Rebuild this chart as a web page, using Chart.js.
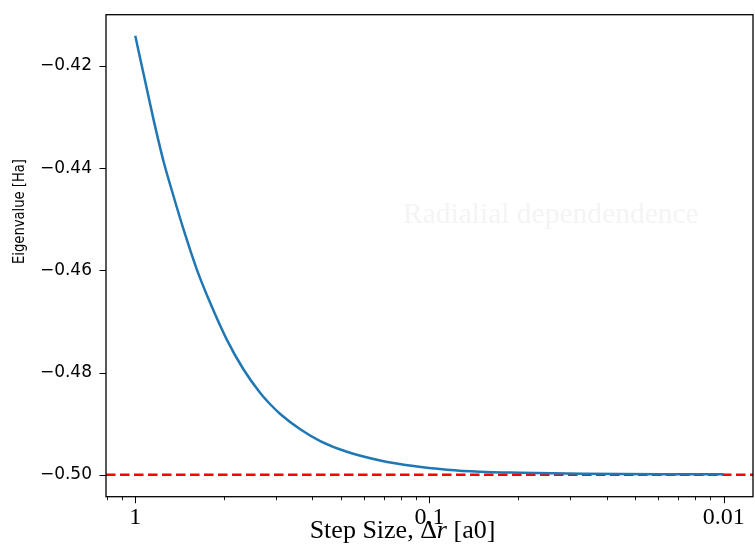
<!DOCTYPE html>
<html><head><meta charset="utf-8">
<script src="https://cdn.jsdelivr.net/npm/chart.js@4/dist/chart.umd.min.js"></script>
<style>html,body{margin:0;padding:0;background:#fff;}</style>
</head><body>
<canvas id="c" width="755" height="556" style="display:block;width:755px;height:556px"></canvas>
<script>
// Step size Δr [a0] and the computed ground-state eigenvalue [Ha]
const stepSize = [1.000, 0.9247, 0.8667, 0.8013, 0.7411, 0.6854, 0.6171, 0.5561, 0.4881, 0.4285, 0.3760, 0.3478, 0.3216, 0.2750, 0.2351, 0.1909, 0.1471, 0.1133, 0.0873, 0.0673, 0.0492, 0.0302, 0.0164, 0.0100];
const eigenvalue = [-0.4141, -0.4231, -0.4305, -0.4387, -0.4455, -0.4520, -0.4599, -0.4664, -0.4736, -0.4794, -0.4840, -0.4862, -0.4881, -0.4911, -0.4934, -0.4955, -0.4972, -0.4983, -0.4990, -0.4994, -0.4996, -0.4998, -0.4999, -0.4999];
const exactValue = -0.5;

// axis is log of 1/Δr, labelled with Δr
const xRange = [0.7952, 125.8];
const yRange = [-0.50429, -0.40997];
const xMajorTicks = [1, 10, 100];
const xTickLabels = ['1', '0.1', '0.01'];
const xMinorTicks = [0.8, 0.9, 2, 3, 4, 5, 6, 7, 8, 9, 20, 30, 40, 50, 60, 70, 80, 90];
const yTicks = [-0.50, -0.48, -0.46, -0.44, -0.42];
const yTickLabels = ['\u22120.50', '\u22120.48', '\u22120.46', '\u22120.44', '\u22120.42'];

const xTitleParts = [['Step Size, \u0394', ''], ['r', 'italic '], [' [a0]', '']];
const yTitle = 'Eigenvalue [Ha]';
const watermark = 'Radialial dependendence';

const decor = {
  id: 'decor',
  beforeDatasetsDraw(chart) {
    const ctx = chart.ctx;
    ctx.save();
    ctx.fillStyle = '#f4f4f4';
    ctx.font = '29.5px "Liberation Serif"';
    ctx.textBaseline = 'alphabetic';
    ctx.textAlign = 'left';
    ctx.fillText(watermark, 403, 223);
    ctx.restore();
  },
  afterDraw(chart) {
    const ctx = chart.ctx, a = chart.chartArea, xs = chart.scales.x, ys = chart.scales.y;
    ctx.save();
    ctx.strokeStyle = '#000';
    ctx.lineWidth = 1;
    ctx.beginPath();
    yTicks.forEach(v => {
      const p = Math.round(ys.getPixelForValue(v)) + 0.5;
      ctx.moveTo(a.left - 6.5, p); ctx.lineTo(a.left, p);
    });
    xMajorTicks.forEach(v => {
      const p = Math.round(xs.getPixelForValue(v)) + 0.5;
      ctx.moveTo(p, a.bottom); ctx.lineTo(p, a.bottom + 6.5);
    });
    ctx.stroke();
    ctx.lineWidth = 0.9;
    ctx.beginPath();
    xMinorTicks.forEach(v => {
      const p = Math.round(xs.getPixelForValue(v)) + 0.5;
      if (p < a.left - 0.5 || p > a.right + 0.5) return;
      ctx.moveTo(p, a.bottom); ctx.lineTo(p, a.bottom + 3.5);
    });
    ctx.stroke();
    ctx.lineWidth = 1.3;
    ctx.strokeRect(a.left, a.top, a.right - a.left, a.bottom - a.top);

    // x title with italic r
    ctx.fillStyle = '#000';
    ctx.textBaseline = 'alphabetic';
    ctx.textAlign = 'left';
    const xf = '26px "Liberation Serif"';
    let total = 0;
    xTitleParts.forEach(([t, st]) => { ctx.font = st + xf; total += ctx.measureText(t).width; });
    let x0 = 402.5 - total / 2;
    xTitleParts.forEach(([t, st]) => { ctx.font = st + xf; ctx.fillText(t, x0, 538); x0 += ctx.measureText(t).width; });

    // y title
    ctx.translate(20, 211.5);
    ctx.rotate(-Math.PI / 2);
    ctx.font = '16px "DejaVu Sans"';
    const w = ctx.measureText(yTitle).width;
    ctx.scale(105 / w, 1);
    ctx.textAlign = 'center';
    ctx.textBaseline = 'middle';
    ctx.fillText(yTitle, 0, 0);
    ctx.restore();
  }
};

const near = (a, b) => Math.abs(a - b) < 1e-9 * Math.max(1, Math.abs(b));

new Chart(document.getElementById('c'), {
  type: 'line',
  data: {
    datasets: [
      {
        data: stepSize.map((d, i) => ({ x: 1 / d, y: eigenvalue[i] })),
        borderColor: '#1f77b4', borderWidth: 2.5, pointRadius: 0,
        cubicInterpolationMode: 'monotone', fill: false
      },
      {
        data: [{ x: xRange[0], y: exactValue }, { x: xRange[1], y: exactValue }],
        borderColor: '#ff0000', borderWidth: 2.5, borderDash: [9.5, 4.5], pointRadius: 0, fill: false
      }
    ]
  },
  options: {
    responsive: false, animation: false, devicePixelRatio: 1,
    layout: { padding: { left: 0, right: 2, top: 14.7, bottom: 0 } },
    plugins: { legend: { display: false }, tooltip: { enabled: false } },
    scales: {
      x: {
        type: 'logarithmic', min: xRange[0], max: xRange[1],
        afterBuildTicks: s => { s.ticks = xMajorTicks.map(v => ({ value: v, major: true })); },
        afterFit: s => { s.height = 59.3; s.paddingLeft = 0; s.paddingRight = 0; },
        grid: { display: false, drawTicks: false }, border: { display: false },
        ticks: {
          autoSkip: false, maxRotation: 0, minRotation: 0, padding: 7, color: '#000',
          font: { family: 'Liberation Serif', size: 24 },
          callback: v => { const i = xMajorTicks.findIndex(t => near(t, v)); return i >= 0 ? xTickLabels[i] : ''; }
        }
      },
      y: {
        type: 'linear', min: yRange[0], max: yRange[1],
        afterBuildTicks: s => { s.ticks = yTicks.map(v => ({ value: v })); },
        afterFit: s => { s.width = 106; s.paddingTop = 0; s.paddingBottom = 0; },
        grid: { display: false, drawTicks: false }, border: { display: false },
        ticks: {
          padding: 14, color: '#000', font: { family: 'DejaVu Sans', size: 17 },
          callback: v => { const i = yTicks.findIndex(t => near(t, v)); return i >= 0 ? yTickLabels[i] : ''; }
        }
      }
    }
  },
  plugins: [decor]
});
</script>
</body></html>
